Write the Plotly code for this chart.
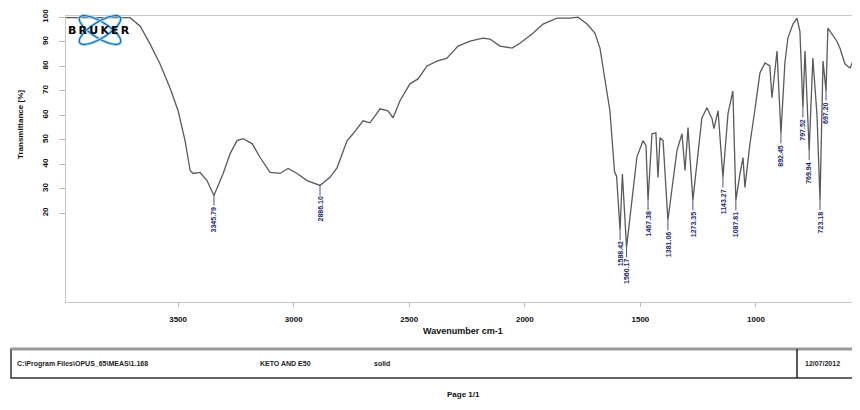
import math
import plotly.graph_objects as go

# ---------------- data ----------------
wavenumber = [3985, 3837, 3708, 3664, 3621, 3578, 3535, 3500, 3470, 3448, 3435, 3405, 3375, 3345,
              3305, 3275, 3245, 3219, 3180, 3145, 3102, 3059, 3024, 2985, 2942, 2886, 2843, 2812,
              2769, 2743, 2700, 2670, 2626, 2592, 2570, 2540, 2497, 2462, 2423, 2380, 2337, 2289,
              2237, 2181, 2151, 2107, 2055, 2021, 1965, 1921, 1861, 1805, 1770, 1731, 1697, 1675,
              1653, 1632, 1612, 1603, 1588, 1578, 1560, 1545, 1530, 1515, 1493, 1489, 1476, 1467,
              1450, 1433, 1424, 1415, 1402, 1381, 1342, 1320, 1307, 1294, 1273, 1234, 1212, 1190,
              1182, 1164, 1143, 1121, 1100, 1087, 1069, 1056, 1048, 1026, 1005, 983, 961, 940, 931,
              909, 892, 875, 862, 840, 823, 810, 797, 788, 770, 754, 736, 723, 710, 697, 689, 650,
              637, 615, 593, 580, 558, 550]
transmittance = [99.8, 99.8, 99.8, 96.3, 89.0, 80.9, 71.1, 61.8, 49.6, 37.4, 36.2, 36.6, 33.3, 27.2,
                 36.2, 44.3, 49.6, 50.4, 48.4, 42.7, 36.6, 36.2, 38.2, 36.2, 33.3, 31.3, 34.6, 38.6,
                 49.6, 52.4, 57.7, 56.9, 62.6, 61.8, 58.9, 65.9, 72.8, 74.8, 80.1, 82.1, 83.3, 88.2,
                 90.2, 91.5, 91.1, 88.2, 87.4, 89.4, 93.5, 97.2, 99.6, 99.6, 100.0, 97.2, 93.5, 87.4,
                 75.2, 61.8, 37.0, 35.0, 13.0, 36.0, 6.0, 18.3, 30.0, 43.0, 48.4, 49.6, 47.6, 25.2,
                 52.4, 52.8, 34.6, 50.8, 49.6, 17.1, 45.5, 52.4, 37.4, 54.9, 25.2, 58.9, 63.0, 58.5,
                 54.5, 61.8, 34.6, 60.6, 69.9, 25.2, 36.2, 42.7, 30.5, 48.4, 62.0, 77.2, 81.3, 80.1, 67.1,
                 86.2, 52.4, 81.3, 91.5, 97.2, 99.6, 94.3, 63.0, 86.2, 45.5, 83.3, 60.0, 25.2, 82.1, 69.9, 95.5, 90.2,
                 87.4, 80.9, 79.3, 82.1, 97.2, 98.4]

peak_wn = [3345, 2886, 1588, 1560, 1467, 1381, 1273, 1143, 1087, 892, 797, 770, 723, 697]
peak_T = [27.2, 31.3, 13.0, 6.0, 25.2, 17.1, 25.2, 34.6, 25.2, 52.4, 63.0, 45.5, 25.2, 69.9]
peak_text = ["3345.79", "2886.10", "1588.42", "1560.17", "1467.38", "1381.06", "1273.35",
             "1143.27", "1087.81", "892.45", "797.52", "769.94", "723.18", "697.20"]

x_tickvals = [3500, 3000, 2500, 2000, 1500, 1000]
x_ticktext = ["3500", "3000", "2500", "2000", "1500", "1000"]
y_tickvals = [100, 90, 80, 70, 60, 50, 40, 30, 20]
y_ticktext = ["100", "90", "80", "70", "60", "50", "40", "30", "20"]

footer_path = "C:\\Program Files\\OPUS_65\\MEAS\\1.168"
footer_sample = "KETO AND E50"
footer_form = "solid"
footer_date = "12/07/2012"

# ---------------- layout helpers (screen pixel -> paper) ----------------
OFF = 8                      # page body margin of the html page
W, H = 860, 410
L, R, T, B = 66, 860, 16, 302   # target plot box on screen
def px(x):
    return (x - L) / (R - L)
def py(y):
    return (B - y) / (B - T)

FONT = "Liberation Sans"
NAVY = "#1d1f6e"

fig = go.Figure()
fig.add_trace(go.Scatter(x=wavenumber, y=transmittance, mode="lines",
                         line=dict(color="#5a5a5a", width=1.3), hoverinfo="skip",
                         showlegend=False))

annotations = []
for w, t, s in zip(peak_wn, peak_T, peak_text):
    annotations.append(dict(x=w, y=t, xref="x", yref="y", text="<b>" + s + "</b>",
                            textangle=-90, showarrow=True, arrowhead=0, arrowwidth=0.8,
                            arrowcolor=NAVY, ax=0, ay=10 + len(s) * 2.0,
                            font=dict(family=FONT, size=7, color=NAVY)))

def label(x, y, text, size, family=FONT, color="#111", angle=0, xanchor="center"):
    annotations.append(dict(x=px(x), y=py(y), xref="paper", yref="paper", text=text,
                            textangle=angle, showarrow=False, xanchor=xanchor, yanchor="middle",
                            font=dict(family=family, size=size, color=color)))

# axis titles
label(20, 125, "<b>Transmittance [%]</b>", 8, angle=-90)
label(463, 331, "<b>Wavenumber cm-1</b>", 9)
# footer texts
for xx, txt in [(15, footer_path), (258, footer_sample), (372, footer_form), (803, footer_date)]:
    label(xx, 364, "<b>" + txt + "</b>", 7, color="#222", xanchor="left")
label(463, 394, "<b>Page 1/1</b>", 8)

shapes = []
# footer box
shapes.append(dict(type="rect", xref="paper", yref="paper", x0=px(11), x1=px(870),
                   y0=py(349), y1=py(378), line=dict(color="#333", width=1.5)))
shapes.append(dict(type="line", xref="paper", yref="paper", x0=px(11), x1=px(870),
                   y0=py(349), y1=py(349), line=dict(color="#9a9a9a", width=3)))
shapes.append(dict(type="line", xref="paper", yref="paper", x0=px(797), x1=px(797),
                   y0=py(349), y1=py(378), line=dict(color="#222", width=1.5)))

# Bruker logo loops
def ellipse(cx, cy, a, b, ang):
    th = math.radians(ang)
    pts = []
    for k in range(41):
        t = 2 * math.pi * k / 40
        ex, ey = a * math.cos(t), b * math.sin(t)
        x = cx + ex * math.cos(th) - ey * math.sin(th)
        y = cy + ex * math.sin(th) + ey * math.cos(th)
        pts.append(f"{px(x):.5f},{py(y):.5f}")
    return "M " + " L ".join(pts) + " Z"

for ang in (32, -32):
    shapes.append(dict(type="path", xref="paper", yref="paper", path=ellipse(100, 30, 24, 8, ang),
                       line=dict(color="#9adcf5", width=3)))
    shapes.append(dict(type="path", xref="paper", yref="paper", path=ellipse(100, 30, 24, 8, ang),
                       line=dict(color="#1f5fa8", width=1.1)))

# Bruker logo text (drawn above the loops)
label(99, 30, "<b>" + "\u2009".join("BRUKER") + "</b>", 11, family="DejaVu Sans", color="#000")

fig.update_layout(
    width=W, height=H,
    margin=dict(l=L - OFF, r=W - R + OFF, t=T - OFF, b=H - B + OFF, autoexpand=False),
    paper_bgcolor="white", plot_bgcolor="white",
    xaxis=dict(range=[3985, 550], tickvals=x_tickvals, automargin=False,
               ticktext=["<b>" + s + "</b>" for s in x_ticktext],
               ticks="outside", ticklen=4, tickcolor="#bbbbbb", showgrid=False, zeroline=False,
               showline=True, linecolor="#c8c8c8", mirror=True, ticklabelstandoff=5,
               tickfont=dict(family=FONT, size=8, color="#111")),
    yaxis=dict(range=[-16.3, 100.5], tickvals=y_tickvals, automargin=False,
               ticktext=["<b>" + s + "</b>" for s in y_ticktext], tickangle=-90,
               ticks="outside", ticklen=6, tickcolor="#bbbbbb", showgrid=False, zeroline=False,
               showline=True, linecolor="#c8c8c8", mirror=True, ticklabelstandoff=8,
               tickfont=dict(family=FONT, size=8, color="#111")),
    annotations=annotations, shapes=shapes,
)
fig.write_html("out.html")
